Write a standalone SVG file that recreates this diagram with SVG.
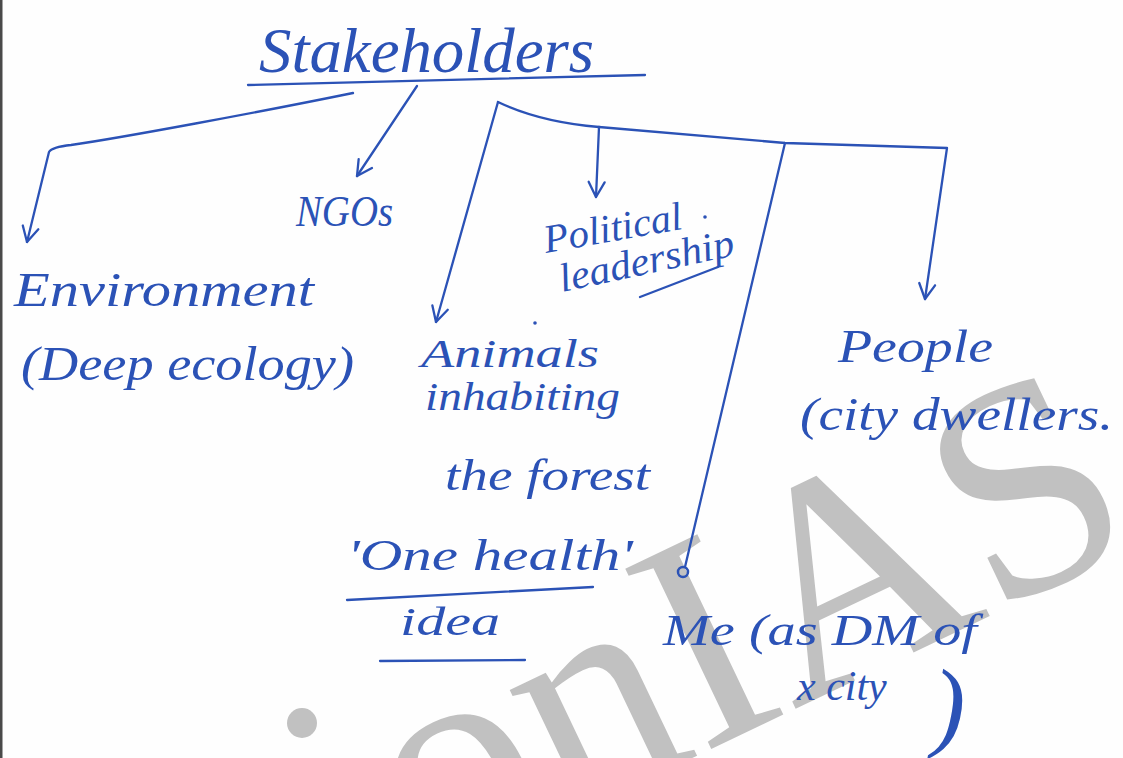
<svg xmlns="http://www.w3.org/2000/svg" width="1123" height="758" viewBox="0 0 1123 758">
<defs>
<style>
.ink{fill:#2b52b6;font-family:"Liberation Serif",serif;font-style:italic}
.ln{fill:none;stroke:#2b52b6;stroke-width:2.3;stroke-linecap:round;stroke-linejoin:round}
.wm{fill:#c1c1c1;font-family:"Liberation Serif",serif}
</style>
<marker id="ah" viewBox="-17 -10 19 20" markerWidth="19" markerHeight="20" markerUnits="userSpaceOnUse" refX="0" refY="0" orient="auto">
<path d="M-15,-8 L0,0 L-15,8" fill="none" stroke="#2b52b6" stroke-width="2.3" stroke-linecap="round" stroke-linejoin="round"/>
</marker>
</defs>
<rect x="0" y="0" width="1123" height="758" fill="#fefefe"/>
<rect x="0" y="0" width="2.5" height="758" fill="#4a4a4a"/>
<g id="watermark">
<circle cx="302" cy="723" r="15" fill="#c1c1c1"/>
<text class="wm" transform="translate(426,885) rotate(-25.5)" font-size="305">onIAS</text>
</g>
<g id="connectors">
<line class="ln" x1="248" y1="85" x2="645" y2="75"/>
<path class="ln" d="M353,93 C260,112 120,138 71,145 Q52,147 49,152 L27,242" marker-end="url(#ah)"/>
<line class="ln" x1="417" y1="86" x2="357" y2="176" marker-end="url(#ah)"/>
<line class="ln" x1="498" y1="102" x2="436" y2="322" marker-end="url(#ah)"/>
<path class="ln" d="M498,102 Q540,122 599,127 L785,143 L947,148 L925,299" marker-end="url(#ah)"/>
<line class="ln" x1="599" y1="127" x2="596" y2="197" marker-end="url(#ah)"/>
<line class="ln" x1="785" y1="143" x2="685" y2="567"/>
<circle cx="683" cy="572" r="5" fill="none" stroke="#2b52b6" stroke-width="2.5"/>
</g>
<g id="n-title"><text class="ink" x="259" y="72" font-size="64" textLength="335" lengthAdjust="spacingAndGlyphs">Stakeholders</text></g>
<g id="n-ngos"><text class="ink" x="296" y="226" font-size="44" textLength="97" lengthAdjust="spacingAndGlyphs">NGOs</text></g>
<g id="n-env">
<text class="ink" x="14" y="306" font-size="48" textLength="300" lengthAdjust="spacingAndGlyphs">Environment</text>
<text class="ink" x="21" y="380" font-size="48" textLength="333" lengthAdjust="spacingAndGlyphs">(Deep ecology)</text>
</g>
<g id="n-political">
<text class="ink" transform="translate(546,253) rotate(-10)" font-size="40" textLength="140" lengthAdjust="spacingAndGlyphs">Political</text>
<text class="ink" transform="translate(562,292) rotate(-12)" font-size="40" textLength="178" lengthAdjust="spacingAndGlyphs">leadership</text>
<line class="ln" x1="640" y1="297" x2="718" y2="267"/>
<circle cx="705" cy="217" r="1.8" fill="#2b52b6"/>
</g>
<g id="n-animals">
<circle cx="535" cy="323" r="1.8" fill="#2b52b6"/>
<text class="ink" x="421" y="367" font-size="40" textLength="178" lengthAdjust="spacingAndGlyphs">Animals</text>
<text class="ink" x="425" y="410" font-size="40" textLength="195" lengthAdjust="spacingAndGlyphs">inhabiting</text>
<text class="ink" x="445" y="490" font-size="44" textLength="205" lengthAdjust="spacingAndGlyphs">the forest</text>
<text class="ink" x="347" y="570" font-size="44" textLength="286" lengthAdjust="spacingAndGlyphs">'One health'</text>
<line class="ln" x1="347" y1="600" x2="593" y2="587"/>
<text class="ink" x="400" y="635" font-size="40" textLength="100" lengthAdjust="spacingAndGlyphs">idea</text>
<line class="ln" x1="380" y1="661" x2="525" y2="660"/>
</g>
<g id="n-people">
<text class="ink" x="838" y="362" font-size="46" textLength="155" lengthAdjust="spacingAndGlyphs">People</text>
<text class="ink" x="800" y="430" font-size="46" textLength="313" lengthAdjust="spacingAndGlyphs">(city dwellers.</text>
</g>
<g id="n-me">
<text class="ink" x="663" y="645" font-size="44" textLength="314" lengthAdjust="spacingAndGlyphs">Me (as DM of</text>
<text class="ink" x="797" y="700" font-size="42">x city <tspan x="932" y="738" font-size="100">)</tspan></text>
</g>
</svg>
